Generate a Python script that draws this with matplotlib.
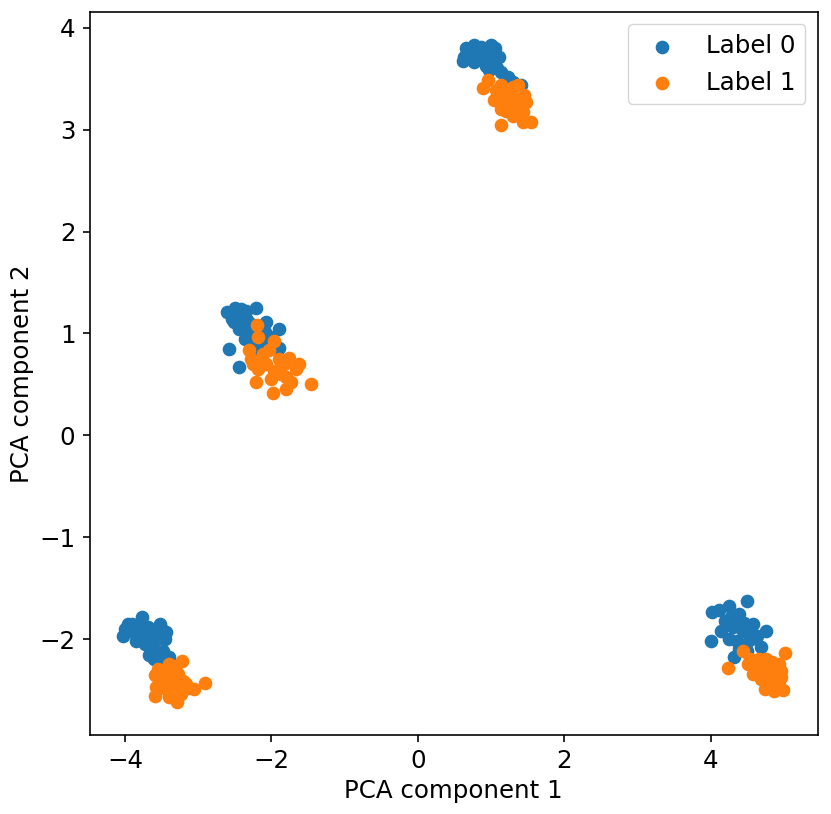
import matplotlib
matplotlib.use("Agg")
import matplotlib.pyplot as plt
import numpy as np

label0_x = [0.66, 0.77, 1.00, 0.61, 0.77, 0.96, 1.11, 0.97, 1.23, 1.41, 0.72, 0.86, 0.92, 0.83, 0.70,
            1.05, 1.02, 0.93, 1.08, 0.63, 0.79, 1.13, 1.30, 0.89, 0.98,
            -2.61, -2.50, -2.42, -2.21, -2.51, -2.34, -2.45, -2.08, -1.89, -2.36, -2.58, -2.45, -2.09,
            -1.90, -2.19, -2.31, -2.39, -2.28, -2.47, -2.17, -2.25, -2.11, -2.35, -2.54, -2.02,
            -4.00, -4.03, -3.91, -3.77, -3.69, -3.93, -3.81, -3.52, -3.44, -3.57, -3.73, -3.67, -3.48,
            -3.40, -3.61, -3.87, -3.65, -3.51, -3.80, -3.96, -3.46, -3.63, -3.85, -3.54, -3.72,
            4.02, 4.11, 4.25, 4.49, 4.39, 4.19, 4.45, 4.14, 4.30, 4.52, 4.63, 4.75, 4.00, 4.36, 4.55,
            4.69, 4.39, 4.32, 4.49, 4.28, 4.44, 4.25, 4.58, 4.34, 4.48]
label0_y = [3.80, 3.83, 3.83, 3.67, 3.66, 3.72, 3.71, 3.59, 3.52, 3.44, 3.78, 3.81, 3.76, 3.70, 3.74,
            3.80, 3.65, 3.62, 3.60, 3.71, 3.76, 3.57, 3.47, 3.69, 3.78,
            1.21, 1.25, 1.24, 1.25, 1.11, 1.13, 1.04, 1.11, 1.04, 0.94, 0.85, 0.67, 1.01,
            0.86, 0.84, 0.99, 1.19, 1.09, 1.16, 1.04, 0.89, 0.92, 1.22, 1.14, 0.96,
            -1.90, -1.97, -1.85, -1.78, -1.88, -1.92, -1.98, -1.85, -1.93, -2.00, -2.05, -2.16, -2.12,
            -2.18, -2.20, -1.90, -1.95, -1.89, -1.88, -1.85, -2.00, -2.08, -2.02, -2.20, -1.92,
            -1.73, -1.72, -1.68, -1.63, -1.75, -1.82, -1.84, -1.92, -1.88, -1.92, -1.97, -1.92, -2.02,
            -2.02, -2.00, -2.08, -2.10, -2.18, -2.12, -1.78, -1.92, -2.00, -1.85, -1.82, -2.05]

label1_x = [0.89, 0.96, 1.13, 1.04, 1.23, 1.27, 1.13, 1.45, 1.48, 1.43, 1.43, 1.54, 1.13, 1.30, 1.37,
            1.20, 1.34, 1.11, 1.27, 1.20, 1.38, 1.07, 1.30, 1.16, 1.41,
            -2.20, -2.19, -1.97, -2.31, -2.04, -2.28, -2.14, -1.76, -1.90, -1.63, -1.67, -2.19, -1.97,
            -1.80, -1.73, -2.21, -1.98, -1.80, -1.46, -2.08, -1.87, -2.12, -2.01, -2.25, -1.83,
            -3.22, -3.55, -3.36, -3.59, -3.42, -3.27, -3.58, -3.59, -3.40, -3.29, -3.21, -3.06, -2.91,
            -3.14, -3.35, -3.47, -3.44, -3.24, -3.31, -3.51, -3.38, -3.17, -3.54, -3.28, -3.40,
            4.44, 4.23, 4.51, 4.66, 4.84, 4.74, 4.58, 4.96, 5.01, 4.80, 4.93, 4.74, 4.89, 4.99, 4.69,
            4.82, 4.89, 4.71, 4.62, 4.80, 4.93, 4.75, 4.86, 4.96, 4.54]
label1_y = [3.41, 3.49, 3.44, 3.29, 3.32, 3.23, 3.20, 3.34, 3.27, 3.17, 3.07, 3.07, 3.05, 3.42, 3.44,
            3.27, 3.29, 3.35, 3.38, 3.18, 3.25, 3.39, 3.13, 3.26, 3.29,
            1.08, 0.96, 0.93, 0.84, 0.84, 0.75, 0.75, 0.76, 0.75, 0.70, 0.65, 0.65, 0.63,
            0.57, 0.52, 0.52, 0.41, 0.45, 0.50, 0.70, 0.60, 0.80, 0.55, 0.70, 0.70,
            -2.22, -2.29, -2.27, -2.35, -2.36, -2.34, -2.47, -2.56, -2.57, -2.62, -2.41, -2.49, -2.43,
            -2.48, -2.43, -2.41, -2.49, -2.54, -2.31, -2.35, -2.37, -2.44, -2.43, -2.47, -2.25,
            -2.12, -2.28, -2.25, -2.20, -2.23, -2.29, -2.34, -2.31, -2.14, -2.37, -2.41, -2.49, -2.49,
            -2.50, -2.39, -2.44, -2.34, -2.25, -2.27, -2.29, -2.25, -2.20, -2.51, -2.37, -2.20]

labels = ["Label 0", "Label 1"]
xlabel = "PCA component 1"
ylabel = "PCA component 2"

k = 1.47
plt.rcParams.update({
    "font.size": 12 * k,
    "axes.linewidth": 0.8 * k,
    "xtick.major.size": 3.5 * k,
    "ytick.major.size": 3.5 * k,
    "xtick.major.width": 0.8 * k,
    "ytick.major.width": 0.8 * k,
    "xtick.major.pad": 3.5 * k,
    "ytick.major.pad": 3.5 * k,
})

fig = plt.figure(figsize=(8.31, 8.14), dpi=100)
ax = fig.add_axes([0.108, 0.097, 0.876, 0.888])
ax.scatter(label0_x, label0_y, s=36 * k * k, color="#1f77b4", label=labels[0])
ax.scatter(label1_x, label1_y, s=36 * k * k, color="#ff7f0e", label=labels[1])
ax.set_xlabel(xlabel)
ax.set_ylabel(ylabel)
ax.set_xticks([-4, -2, 0, 2, 4])
ax.set_yticks([-2, -1, 0, 1, 2, 3, 4])
ax.legend(loc="upper right")
fig.savefig("out.png", dpi=100)
